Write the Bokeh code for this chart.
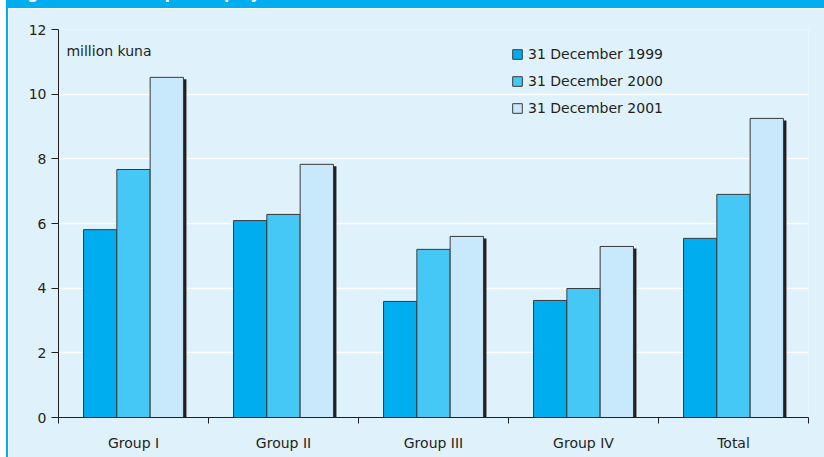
from bokeh.plotting import figure
from bokeh.models import Range1d, FixedTicker, LinearAxis, Legend, LegendItem, Label, Div
from bokeh.layouts import row, column
from bokeh.embed import file_html
from bokeh.resources import INLINE

# Assets per employee, million kuna
groups = ["Group I", "Group II", "Group III", "Group IV", "Total"]
dec_1999 = [5.81, 6.09, 3.59, 3.62, 5.54]
dec_2000 = [7.67, 6.28, 5.20, 3.99, 6.90]
dec_2001 = [10.52, 7.83, 5.60, 5.29, 9.25]
series_labels = ["31 December 1999", "31 December 2000", "31 December 2001"]
y_ticks = [0, 2, 4, 6, 8, 10, 12]

FONT = "DejaVu Sans"
INK = "#231f20"
PANEL = "#dff1fb"
BLUE = "#00aeef"
fills = ["#00aeef", "#45c8f5", "#c8e9fb"]

p = figure(width=816, height=449, output_backend="svg", toolbar_location=None,
           x_range=Range1d(0, len(groups)), y_range=Range1d(0, 12),
           x_axis_type=None, margin=0,
           min_border_left=50, min_border_right=16, min_border_top=21, min_border_bottom=40,
           background_fill_color=PANEL, border_fill_color=PANEL, outline_line_color=None)

# y axis
p.yaxis.ticker = FixedTicker(ticks=y_ticks)
p.yaxis.minor_tick_line_color = None
p.yaxis.major_tick_in = 0
p.yaxis.major_tick_out = 7
p.yaxis.major_label_standoff = 5
p.yaxis.axis_line_color = INK
p.yaxis.major_tick_line_color = INK
p.yaxis.major_label_text_font = FONT
p.yaxis.major_label_text_font_size = "14px"
p.yaxis.major_label_text_color = INK

# category axis: labels at group centres, tick marks at group boundaries
centres = [i + 0.5 for i in range(len(groups))]
bounds = list(range(len(groups) + 1))
xaxis = LinearAxis(ticker=FixedTicker(ticks=centres, minor_ticks=bounds),
                   major_label_overrides={c: g for c, g in zip(centres, groups)})
xaxis.major_tick_out = 0
xaxis.major_tick_in = 0
xaxis.minor_tick_out = 6
xaxis.minor_tick_in = 0
xaxis.minor_tick_line_color = INK
xaxis.axis_line_color = INK
xaxis.major_label_standoff = 11
xaxis.major_label_text_font = FONT
xaxis.major_label_text_font_size = "14px"
xaxis.major_label_text_color = INK
p.add_layout(xaxis, "below")

p.xgrid.visible = False
p.ygrid.ticker = FixedTicker(ticks=y_ticks[1:])
p.ygrid.grid_line_color = "white"
p.ygrid.grid_line_width = 1.5

# dodged bars with a dark drop shadow
w = 0.222
dx = 3 / 150
dy = 2 / (388 / 12)
series = [dec_1999, dec_2000, dec_2001]
offsets = [-w, 0, w]

for vals, off in zip(series, offsets):
    p.vbar(x=[c + off + dx for c in centres], top=[v - dy for v in vals], bottom=0,
           width=w, fill_color=INK, line_color=None)

bar_renderers = []
for vals, off, col in zip(series, offsets, fills):
    r = p.vbar(x=[c + off for c in centres], top=vals, bottom=0, width=w,
               fill_color=col, line_color="#3a3a3a", line_width=1)
    bar_renderers.append(r)

legend = Legend(items=[LegendItem(label=lab, renderers=[r]) for lab, r in zip(series_labels, bar_renderers)],
                location=(453, 301), orientation="vertical",
                glyph_width=12, glyph_height=12, label_height=14, spacing=11,
                label_standoff=5, padding=0, margin=0,
                label_text_font=FONT, label_text_font_size="14px", label_text_color=INK,
                border_line_color=None, background_fill_alpha=0)
p.add_layout(legend)

p.add_layout(Label(x=0.053, y=11.34, text="million kuna", text_font=FONT,
                   text_font_size="14px", text_color=INK, text_baseline="alphabetic"))

band = Div(text='<div style="position:relative;top:-13px;left:6px;white-space:nowrap">'
                'Figure 10: Assets per Employee</div>',
           width=818, height=8, margin=0,
           styles={"background-color": BLUE, "overflow": "hidden", "color": "white",
                   "font-family": FONT, "font-weight": "bold", "font-size": "15px",
                   "line-height": "15px"})
edge_white = Div(text="", width=6, height=457, margin=0, styles={"background-color": "white"})
edge_blue = Div(text="", width=2, height=449, margin=0, styles={"background-color": BLUE})

page = row(edge_white, column(band, row(edge_blue, p, spacing=0), spacing=0),
           spacing=0, margin=0)

open("out.html", "w").write(file_html(page, INLINE))
